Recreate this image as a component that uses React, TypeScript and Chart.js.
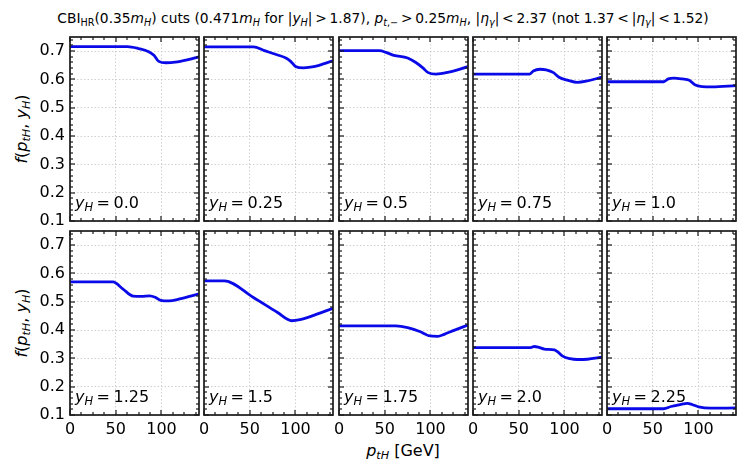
import { useEffect, useRef } from "react"
import { Chart, registerables } from "chart.js"

Chart.register(...registerables)

// y_H value of each panel, row by row
const yHLabels = ["0.0", "0.25", "0.5", "0.75", "1.0", "1.25", "1.5", "1.75", "2.0", "2.25"]

// p_tH [GeV] and f(p_tH, y_H)
const pt00 = [0, 63, 75, 86, 92, 97, 105, 115, 128, 141]
const f00 = [0.716, 0.716, 0.709, 0.698, 0.685, 0.664, 0.659, 0.661, 0.669, 0.68]
const pt025 = [0, 54, 66, 79, 90, 95, 100, 109, 120, 141]
const f025 = [0.715, 0.715, 0.702, 0.688, 0.675, 0.663, 0.646, 0.641, 0.645, 0.666]
const pt05 = [0, 44, 52, 60, 75, 84, 92, 97, 106, 120, 141]
const f05 = [0.702, 0.702, 0.695, 0.685, 0.676, 0.66, 0.64, 0.625, 0.619, 0.626, 0.645]
const pt075 = [0, 62, 66, 73, 80, 88, 94, 104, 114, 125, 141]
const f075 = [0.619, 0.619, 0.63, 0.636, 0.634, 0.624, 0.608, 0.597, 0.59, 0.595, 0.608]
const pt10 = [0, 62, 67, 73, 82, 90, 96, 104, 115, 141]
const f10 = [0.592, 0.592, 0.602, 0.605, 0.602, 0.597, 0.581, 0.575, 0.574, 0.578]
const pt125 = [0, 47, 58, 69, 78, 87, 93, 99, 108, 120, 141]
const f125 = [0.57, 0.57, 0.545, 0.52, 0.519, 0.521, 0.516, 0.505, 0.503, 0.51, 0.528]
const pt15 = [0, 22, 54, 80, 96, 105, 120, 141]
const f15 = [0.574, 0.574, 0.515, 0.463, 0.433, 0.437, 0.452, 0.477]
const pt175 = [0, 62, 75, 89, 94, 98, 108, 115, 125, 141]
const f175 = [0.415, 0.415, 0.409, 0.394, 0.386, 0.38, 0.378, 0.385, 0.398, 0.418]
const pt20 = [0, 63, 67, 72, 78, 89, 93, 98, 106, 114, 125, 141]
const f20 = [0.338, 0.338, 0.342, 0.339, 0.333, 0.33, 0.322, 0.308, 0.299, 0.296, 0.297, 0.304]
const pt225 = [0, 62, 70, 80, 88, 93, 100, 113, 141]
const f225 = [0.122, 0.122, 0.13, 0.137, 0.141, 0.137, 0.129, 0.124, 0.125]

const ptSeries = [pt00, pt025, pt05, pt075, pt10, pt125, pt15, pt175, pt20, pt225]
const fSeries = [f00, f025, f05, f075, f10, f125, f15, f175, f20, f225]

// tick labels
const xTicks = [0, 50, 100]
const yTicks = [0.1, 0.2, 0.3, 0.4, 0.5, 0.6, 0.7]

const X_MAX = 141
const Y_MIN = 0.1
const Y_MAX = 0.75

// panel geometry in page pixels
const panelLefts = [70, 204, 339, 473, 607]
const panelTops = [37, 231]
const PW = 129
const PH = 184
const PADL = 48
const PADR = 6
const PADT = 6
const PADB = 28

const FONT = "'DejaVu Sans', sans-serif"
const INK = "#1a1a1a"

const panelPlugin = {
  id: "panelDecor",
  afterDraw(chart: any, _args: any, opts: any) {
    const { ctx, chartArea: a } = chart
    const xs = chart.scales.x
    const ys = chart.scales.y
    ctx.save()
    ctx.setLineDash([])
    ctx.fillStyle = INK
    // inward ticks on all four sides
    for (let k = 0; k * 12.5 <= X_MAX; k++) {
      const px = Math.round(xs.getPixelForValue(k * 12.5))
      const len = k % 4 === 0 ? 5 : 3
      ctx.fillRect(px - 0.6, a.bottom - len, 1.2, len)
      ctx.fillRect(px - 0.6, a.top, 1.2, len)
    }
    for (let k = 0; Y_MIN + k * 0.02 <= Y_MAX + 1e-9; k++) {
      const py = Math.round(ys.getPixelForValue(Y_MIN + k * 0.02))
      const len = k % 5 === 0 ? 5 : 3
      ctx.fillRect(a.left, py - 0.6, len, 1.2)
      ctx.fillRect(a.right - len, py - 0.6, len, 1.2)
    }

    ctx.strokeStyle = INK
    ctx.lineWidth = 1.7
    ctx.strokeRect(a.left, a.top, a.right - a.left, a.bottom - a.top)

    // panel label y_H = ...
    const x0 = a.left + 5
    const base = a.bottom - 13
    ctx.fillStyle = "#000"
    ctx.textBaseline = "alphabetic"
    ctx.textAlign = "left"
    ctx.font = `italic 16px ${FONT}`
    ctx.fillText("y", x0, base)
    let cx = x0 + ctx.measureText("y").width
    ctx.font = `italic 11.5px ${FONT}`
    ctx.fillText("H", cx, base + 3)
    cx += ctx.measureText("H").width + 3.5
    ctx.font = `16px ${FONT}`
    ctx.fillText("=", cx, base)
    cx += ctx.measureText("=").width + 3.5
    ctx.fillText(opts.label, cx, base)
    ctx.restore()
  },
}

function Panel({ index }: { index: number }) {
  const canvasRef = useRef<HTMLCanvasElement>(null)
  const row = Math.floor(index / 5)
  const col = index % 5

  useEffect(() => {
    if (!canvasRef.current) return
    const pts = ptSeries[index].map((x, i) => ({ x, y: fSeries[index][i] }))
    const tickFont = { family: FONT, size: 16 }
    const chart = new Chart(canvasRef.current, {
      type: "line",
      data: {
        datasets: [
          {
            data: pts,
            borderColor: "#0a0ae8",
            borderWidth: 2.8,
            pointRadius: 0,
            cubicInterpolationMode: "monotone",
            fill: false,
          },
        ],
      },
      options: {
        animation: false,
        responsive: false,
        events: [],
        layout: { padding: { top: PADT, right: PADR, left: 0, bottom: 0 } },
        plugins: {
          legend: { display: false },
          tooltip: { enabled: false },
          panelDecor: { label: yHLabels[index] },
        } as any,
        scales: {
          x: {
            type: "linear",
            min: 0,
            max: X_MAX,
            afterBuildTicks: (s: any) => {
              s.ticks = xTicks.map((value) => ({ value }))
            },
            afterFit: (s: any) => {
              s.height = PADB
              s.paddingLeft = s.paddingRight = s.paddingTop = s.paddingBottom = 0
            },
            ticks: {
              display: row === 1,
              padding: 5,
              color: "#000",
              font: tickFont,
              maxRotation: 0,
              autoSkip: false,
              callback: (v: any) => String(v),
            },
            grid: { color: "#c4c4c4", lineWidth: 0.8, drawTicks: false },
            border: { display: false, dash: [1.5, 2] },
          },
          y: {
            type: "linear",
            min: Y_MIN,
            max: Y_MAX,
            afterBuildTicks: (s: any) => {
              s.ticks = yTicks.map((value) => ({ value }))
            },
            afterFit: (s: any) => {
              s.width = PADL
              s.paddingLeft = s.paddingRight = s.paddingTop = s.paddingBottom = 0
            },
            ticks: {
              display: col === 0,
              padding: 5,
              color: "#000",
              font: tickFont,
              autoSkip: false,
              callback: (v: any) => Number(v).toFixed(1),
            },
            grid: { color: "#c4c4c4", lineWidth: 0.8, drawTicks: false },
            border: { display: false, dash: [1.5, 2] },
          },
        },
      },
      plugins: [panelPlugin],
    })
    return () => chart.destroy()
  }, [index])

  return (
    <canvas
      ref={canvasRef}
      width={PADL + PW + PADR}
      height={PADT + PH + PADB}
      style={{
        position: "absolute",
        left: panelLefts[col] - PADL,
        top: panelTops[row] - PADT,
      }}
    />
  )
}

const sub: React.CSSProperties = { fontSize: "70%", verticalAlign: "-0.3em", lineHeight: 0 }

function YLabel({ centerY }: { centerY: number }) {
  return (
    <div
      style={{
        position: "absolute",
        left: 21,
        top: centerY,
        width: "max-content",
        transform: "translate(-50%, -50%) rotate(-90deg)",
        fontSize: 16,
        whiteSpace: "nowrap",
      }}
    >
      <i>f</i>(<i>p</i>
      <i style={sub}>tH</i>, <i>y</i>
      <i style={sub}>H</i>)
    </div>
  )
}

export default function App() {
  return (
    <div
      style={{
        position: "absolute",
        left: 0,
        top: 0,
        width: 748,
        height: 475,
        background: "#fff",
        fontFamily: FONT,
        color: "#000",
        overflow: "hidden",
      }}
    >
      <div
        style={{
          position: "absolute",
          left: 0,
          top: 9,
          width: 766,
          textAlign: "center",
          fontSize: 13.8,
          lineHeight: "18px",
          whiteSpace: "nowrap",
        }}
      >
        CBI<span style={sub}>HR</span>(0.35<i>m</i>
        <i style={sub}>H</i>) cuts (0.471<i>m</i>
        <i style={sub}>H</i> for |<i>y</i>
        <i style={sub}>H</i>|{"\u2009"}&gt;{"\u2009"}1.87), <i>p</i>
        <i style={sub}>t</i>
        <span style={sub}>,−</span>
        {"\u2009"}&gt;{"\u2009"}0.25<i>m</i>
        <i style={sub}>H</i>, |<i>η</i>
        <i style={sub}>γ</i>|{"\u2009"}&lt;{"\u2009"}2.37 (not 1.37{"\u2009"}&lt;{"\u2009"}|<i>η</i>
        <i style={sub}>γ</i>|{"\u2009"}&lt;{"\u2009"}1.52)
      </div>
      <YLabel centerY={129} />
      <YLabel centerY={323} />
      <div
        style={{
          position: "absolute",
          left: 403,
          top: 450,
          width: "max-content",
          transform: "translate(-50%, -50%)",
          fontSize: 16,
          whiteSpace: "nowrap",
        }}
      >
        <i>p</i>
        <i style={sub}>tH</i> [GeV]
      </div>
      {yHLabels.map((_, i) => (
        <Panel key={i} index={i} />
      ))}
    </div>
  )
}
